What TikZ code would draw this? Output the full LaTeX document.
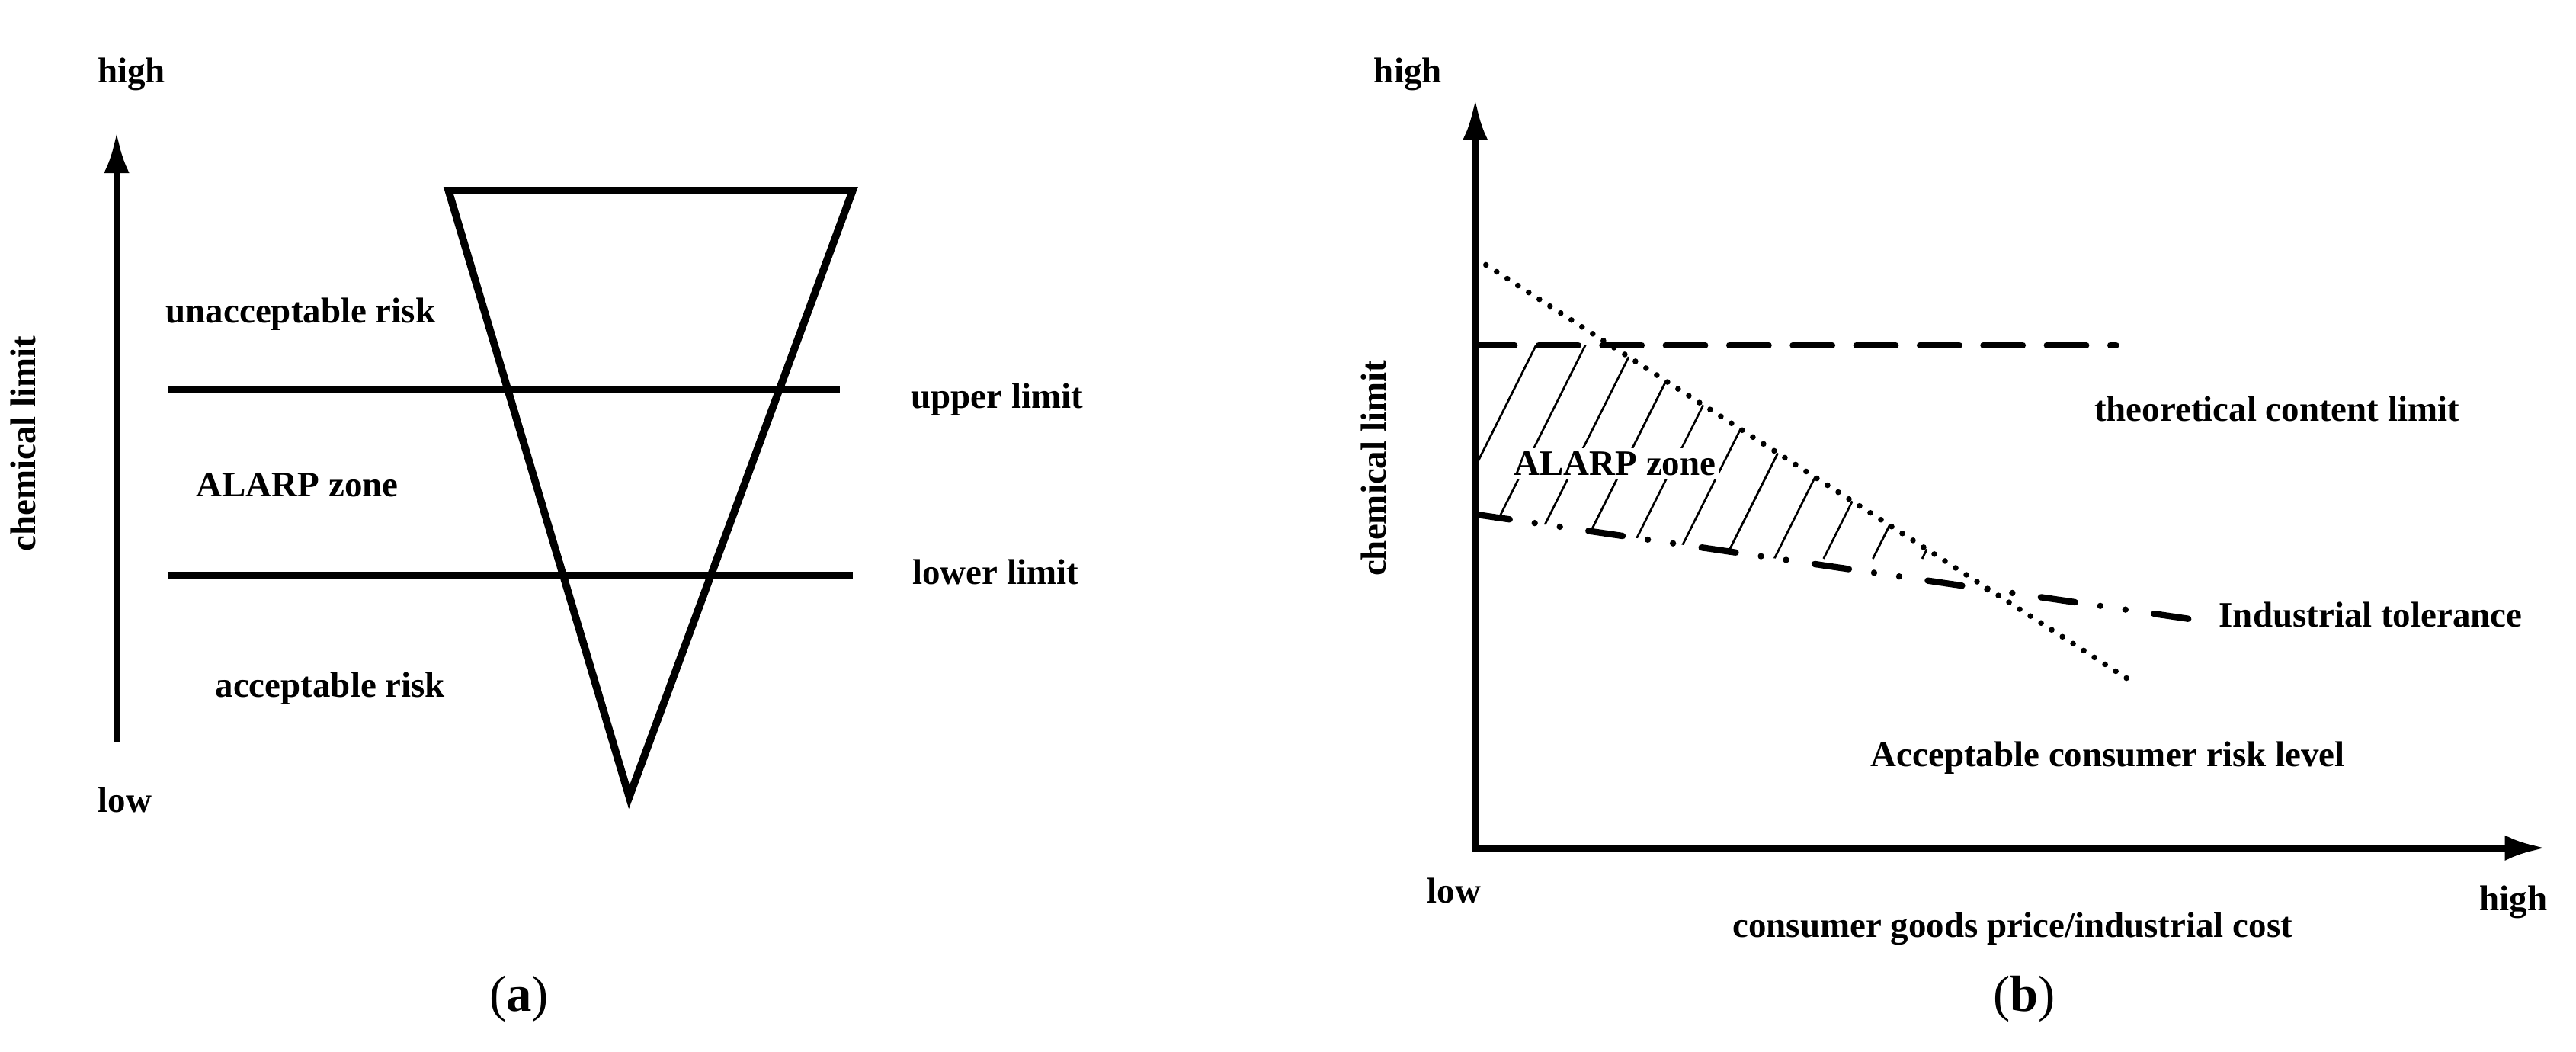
\documentclass[tikz,border=0pt]{standalone}
\usepackage{fontspec}
\setmainfont{Liberation Serif}
\usetikzlibrary{arrows.meta}
\begin{document}
\begin{tikzpicture}[x=0.05cm,y=-0.05cm,
  lbl/.style={font=\fontsize{31}{34}\selectfont\bfseries,inner sep=1pt},
  thick line/.style={line width=6.5pt},
  axis/.style={line width=6pt,-{Latex[length=36pt,width=22pt]}},
  captxt/.style={font=\fontsize{44}{48}\selectfont}]
\useasboundingbox (0,0) rectangle (1568,640);
% panel a
\coordinate (aB) at (71,452); \coordinate (aT) at (71,80);
\draw[axis] (aB) -- (aT);
\node[lbl] (ahigh) at (80,45) {high};
\node[lbl] (alow) at (76,487) {low};
\node[lbl,rotate=90] (achem) at (14,270) {chemical limit};
\coordinate (t1) at (273,116); \coordinate (t2) at (519,116); \coordinate (t3) at (383,485);
\draw[thick line,line join=miter] (t1) -- (t2) -- (t3) -- cycle;
\coordinate (u1) at (102,237); \coordinate (u2) at (511,237);
\coordinate (l1) at (102,350); \coordinate (l2) at (519,350);
\draw[thick line] (u1) -- (u2);
\draw[thick line] (l1) -- (l2);
\node[lbl] (unacc) at (183,191) {unacceptable risk};
\node[lbl] (upper) at (607,243) {upper limit};
\node[lbl] (alarpa) at (181,295) {ALARP zone};
\node[lbl] (lower) at (606,348) {lower limit};
\node[lbl] (acc) at (201,419) {acceptable risk};
\node[captxt] (capa) at (316,608) {(\textbf{a})};
% panel b
\coordinate (O) at (898,516); \coordinate (Y) at (898,60); \coordinate (X) at (1550,516);
% hatching
\begin{scope}
\clip (898,210) -- (1140,210) -- (1211,359) -- (898,313) -- cycle;
\clip (898,157) -- (1298,415) -- (1298,600) -- (898,600) -- cycle;
\foreach \i in {0,...,12} {
  \draw[line width=1.8pt] (870+30*\i,340) -- (870+30*\i+75,190);
}
\end{scope}
\draw[axis] (O) -- (Y);
\draw[axis] ([xshift=-3pt]O) -- (X);
\coordinate (d1) at (898,210); \coordinate (d2) at (1288,210);
\draw[line width=5.5pt,dash pattern=on 34pt off 21pt,line cap=round] (d1) -- (d2);
\coordinate (p1) at (898,157); \coordinate (p2) at (1298,415);
\draw[line width=5pt,dash pattern=on 0pt off 11pt,line cap=round] (p1) -- (p2);
\coordinate (q1) at (898,313); \coordinate (q2) at (1335,377);
\draw[line width=5.5pt,line cap=round,dash pattern=on 30pt off 22pt on 0pt off 22pt on 0pt off 25pt] (q1) -- (q2);
\node[lbl,fill=white,inner sep=3pt] (alarpb) at (983,282) {ALARP zone};
\node[lbl] (bhigh) at (857,45) {high};
\node[lbl,rotate=90] (bchem) at (836,285) {chemical limit};
\node[lbl] (blow) at (885,542) {low};
\node[lbl] (bhigh2) at (1530,549) {high};
\node[lbl] (xlab) at (1225,565) {consumer goods price/industrial cost};
\node[lbl] (theo) at (1386,249) {theoretical content limit};
\node[lbl] (ind) at (1443,374) {Industrial tolerance};
\node[lbl] (accb) at (1283,461) {Acceptable consumer risk level};
\node[captxt] (capb) at (1232,608) {(\textbf{b})};
\end{tikzpicture}
\end{document}
